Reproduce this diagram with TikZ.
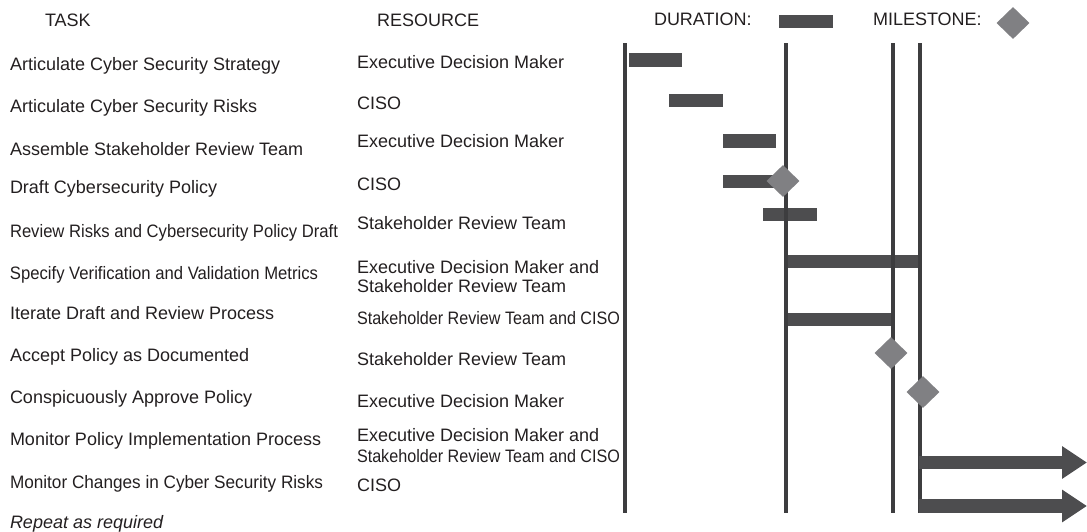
\documentclass[tikz,border=0pt]{standalone}
\usepackage{fontspec}
\setmainfont{Liberation Sans}
\usetikzlibrary{shapes.geometric,arrows.meta}
\definecolor{bargray}{HTML}{4D4D4F}
\definecolor{linegray}{HTML}{3D3D3F}
\definecolor{msgray}{HTML}{808083}
\definecolor{txt}{HTML}{231F20}
\newcommand\squeeze[2]{\resizebox{#1pt}{\height}{#2}}
\begin{document}
\begin{tikzpicture}[x=1pt,y=-1pt,
  lbl/.style={anchor=base west,inner sep=0,outer sep=0,text=txt,font=\fontsize{18}{21}\selectfont},
  two/.style={lbl,align=left},
  bar/.style={rectangle,fill=bargray,draw=none,inner sep=0,minimum height=13.5},
  ms/.style={diamond,fill=msgray,draw=none,inner sep=0,minimum width=33,minimum height=32},
  vline/.style={draw=linegray,line width=3.6,line cap=butt},
  arr/.style={draw=bargray,line width=13.5,-{Triangle[width=31pt,length=25pt]}}]
\useasboundingbox (0,0) rectangle (1087,531);
% headers
\node[lbl] (hTask) at (45,26) {TASK};
\node[lbl] (hRes) at (377,26) {RESOURCE};
\node[lbl] (hDur) at (654,25) {DURATION:};
\node[bar,minimum width=54] (lgBar) at (806,21.5) {};
\node[lbl] (hMs) at (873,25) {MILESTONE:};
\node[ms] (lgMs) at (1013,23) {};
% tasks
\node[lbl] (t1) at (10,70) {Articulate Cyber Security Strategy};
\node[lbl] (t2) at (10,112) {Articulate Cyber Security Risks};
\node[lbl] (t3) at (10,155) {Assemble Stakeholder Review Team};
\node[lbl] (t4) at (10,193) {Draft Cybersecurity Policy};
\node[lbl] (t5) at (10,237) {\squeeze{328}{Review Risks and Cybersecurity Policy Draft}};
\node[lbl] (t6) at (10,279) {\squeeze{308}{Specify Verification and Validation Metrics}};
\node[lbl] (t7) at (10,319) {Iterate Draft and Review Process};
\node[lbl] (t8) at (10,361) {Accept Policy as Documented};
\node[lbl] (t9) at (10,403) {Conspicuously Approve Policy};
\node[lbl] (t10) at (10,445) {Monitor Policy Implementation Process};
\node[lbl] (t11) at (10,488) {\squeeze{313}{Monitor Changes in Cyber Security Risks}};
\node[lbl,font=\fontsize{18}{21}\selectfont\itshape] (t12) at (10,528) {Repeat as required};
% resources
\node[lbl] (r1) at (357,68) {Executive Decision Maker};
\node[lbl] (r2) at (357,109) {CISO};
\node[lbl] (r3) at (357,147) {Executive Decision Maker};
\node[lbl] (r4) at (357,190) {CISO};
\node[lbl] (r5) at (357,229) {Stakeholder Review Team};
\node[lbl] (r6a) at (357,273) {Executive Decision Maker and};
\node[lbl] (r6b) at (357,292) {Stakeholder Review Team};
\node[lbl] (r7) at (357,324) {\squeeze{263}{Stakeholder Review Team and CISO}};
\node[lbl] (r8) at (357,365) {Stakeholder Review Team};
\node[lbl] (r9) at (357,407) {Executive Decision Maker};
\node[lbl] (r10a) at (357,441) {Executive Decision Maker and};
\node[lbl] (r10b) at (357,462) {\squeeze{263}{Stakeholder Review Team and CISO}};
\node[lbl] (r11) at (357,491) {CISO};
% duration bars
\node[bar,minimum width=53] (b1) at (655.5,60) {};
\node[bar,minimum width=54] (b2) at (696,100.5) {};
\node[bar,minimum width=53] (b3) at (749.5,141) {};
\node[bar,minimum width=53] (b4) at (749.5,181.5) {};
\node[bar,minimum width=54] (b5) at (790,214.5) {};
\node[bar,minimum width=133] (b6) at (854.5,261.5) {};
\node[bar,minimum width=107] (b7) at (841.5,319.5) {};
% vertical lines
\coordinate (v1t) at (625,43); \coordinate (v1b) at (625,513);
\coordinate (v2t) at (786,43); \coordinate (v2b) at (786,513);
\coordinate (v3t) at (893,43); \coordinate (v3b) at (893,513);
\coordinate (v4t) at (920,43); \coordinate (v4b) at (920,513);
\draw[vline] (v1t) -- (v1b);
\draw[vline] (v2t) -- (v2b);
\draw[vline] (v3t) -- (v3b);
\draw[vline] (v4t) -- (v4b);
% milestones
\node[ms] (m4) at (783,181) {};
\node[ms] (m8) at (891,353) {};
\node[ms] (m9) at (923,392) {};
% ongoing arrows
\coordinate (a1s) at (918.5,462.5); \coordinate (a1e) at (1087,462.5);
\coordinate (a2s) at (918.5,506); \coordinate (a2e) at (1087,506);
\draw[arr] (a1s) -- (a1e);
\draw[arr] (a2s) -- (a2e);
\end{tikzpicture}
\end{document}
